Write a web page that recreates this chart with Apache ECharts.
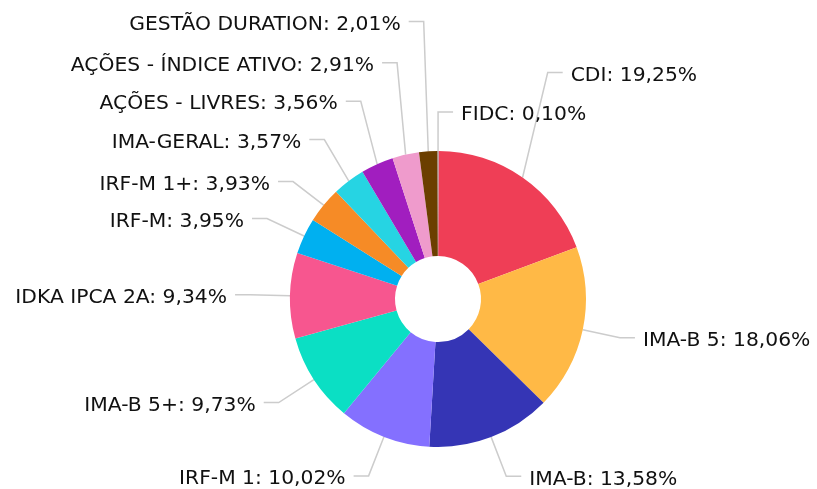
<!DOCTYPE html>
<html><head><meta charset="utf-8">
<script src="https://cdn.jsdelivr.net/npm/echarts@6/dist/echarts.min.js"></script>
<style>html,body{margin:0;padding:0;background:#fff}#c{width:817px;height:489px}</style>
</head><body><div id="c"></div>
<script>
const categories = ['CDI','IMA-B 5','IMA-B','IRF-M 1','IMA-B 5+','IDKA IPCA 2A','IRF-M','IRF-M 1+','IMA-GERAL','AÇÕES - LIVRES','AÇÕES - ÍNDICE ATIVO','GESTÃO DURATION','FIDC'];
const values = [19.25,18.06,13.58,10.02,9.73,9.34,3.95,3.93,3.57,3.56,2.91,2.01,0.10];
const colors = ['#EF3E56','#FFB946','#3535B5','#8470FF','#0BDFC4','#F7568F','#00B0F0','#F68B26','#26D4E3','#A11EBF','#EF9BCC','#6B3F00','#9E9E9E'];
// label line styling per slice: first-segment length and horizontal label nudge
const lineLengths = [128,38,42,42,42,40,41,37,52,69,94,130,39];
const labelNudge = [-48,0,0,0,0,0,0,-2,7,12,12,4,0];
const chart = echarts.init(document.getElementById('c'));
chart.setOption({
  animation:false,
  series:[{
    type:'pie',
    center:[438,299],
    radius:[43,148],
    startAngle:89.8,
    clockwise:true,
    avoidLabelOverlap:false,
    data:categories.map((n,i)=>({name:n,value:values[i],itemStyle:{color:colors[i]},labelLine:{length:lineLengths[i]}})),
    label:{
      show:true,
      formatter:p=>p.name+': '+p.value.toFixed(2).replace('.',',')+'%',
      fontFamily:'DejaVu Sans',
      fontSize:20.3,
      color:'#111',
      overflow:'none',
      distanceToLabelLine:8
    },
    labelLine:{show:true,length:40,length2:15,lineStyle:{color:'#cccccc',width:1.5}},
    labelLayout:function(p){
      if (!p.labelLinePoints) return {};
      const d = labelNudge[p.dataIndex] || 0;
      const pts = p.labelLinePoints.map((q,k)=> k===0 ? [q[0],q[1]] : [q[0]+d,q[1]]);
      return {dx:d, dy:3, labelLinePoints:pts};
    },
    emphasis:{disabled:true}
  }]
});
</script></body></html>
